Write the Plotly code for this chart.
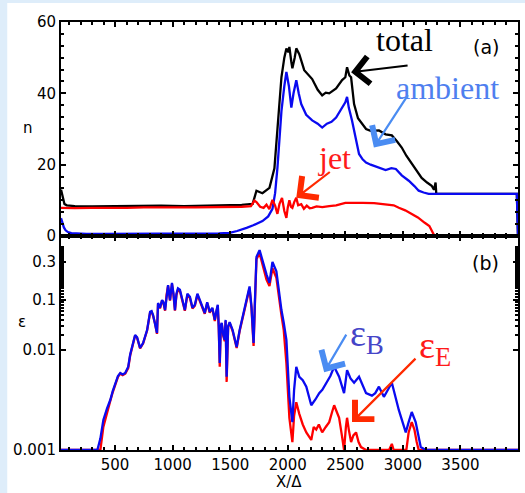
import numpy as np
import plotly.graph_objects as go
from plotly.subplots import make_subplots

# ---------------- data ----------------
# panel (a): densities
x_tot = [30, 45, 60, 80, 100, 150, 300, 500, 700, 900,
         1100, 1300, 1500, 1600, 1695, 1720, 1728, 1780, 1841, 1884,
         1910, 1945, 1970, 1988, 2005, 2014, 2030, 2040, 2060, 2074,
         2100, 2143, 2212, 2260, 2299, 2330, 2360, 2420, 2472, 2500,
         2515, 2535, 2550, 2576, 2610, 2636, 2680, 2720, 2792, 2850,
         2904, 2950, 2990, 3030, 3077, 3120, 3163, 3210, 3250, 3270,
         3284, 3290, 3600, 3990, 4000]
n_total = [13, 10.5, 9, 8.6, 8.5, 8.4, 8.3, 8.4, 8.3, 8.5,
           8.4, 8.5, 8.6, 8.7, 9, 11.5, 12.7, 12, 13.5, 19,
           29.6, 44.5, 50, 52.6, 51.5, 53, 49, 47, 50, 52.6,
           51, 46.5, 44, 41, 39.4, 40.2, 40, 41.4, 43.7, 44.5,
           47.3, 45, 44.5, 37, 33, 32, 30, 29.5, 29.6, 28.5,
           28.2, 26.5, 24.8, 22.5, 20.3, 18, 16.3, 15, 14.1, 13,
           15, 11.8, 11.8, 11.8, 0]

x_amb = [30, 40, 55, 70, 90, 120, 160, 250, 400, 600,
         800, 1000, 1200, 1400, 1495, 1560, 1642, 1700, 1780, 1830,
         1867, 1890, 1910, 1945, 1970, 1988, 2010, 2031, 2050, 2074,
         2095, 2117, 2160, 2212, 2260, 2299, 2340, 2380, 2420, 2472,
         2500, 2515, 2530, 2558, 2590, 2619, 2650, 2680, 2720, 2760,
         2792, 2850, 2900, 2939, 2990, 3051, 3100, 3137, 3180, 3224,
         3300, 3600, 3990, 4000]
n_ambient = [5, 3.6, 2.4, 1.6, 1.1, 0.8, 0.7, 0.6, 0.6, 0.6,
             0.65, 0.7, 0.7, 0.75, 0.9, 1.4, 2.3, 3, 4.2, 5.5,
             7.6, 12, 19, 35, 42, 46, 42, 36, 40, 43.7,
             40, 37, 34, 32.4, 31.5, 30.4, 31.5, 32, 33.2, 36,
             37.5, 39, 36, 32.4, 27, 23, 21.5, 20.6, 20, 19.5,
             19.2, 18.5, 19, 18.8, 17, 15.5, 14, 12.7, 12.2, 11.8,
             11.8, 11.8, 11.8, 0]

x_jet = [30, 30.5, 150, 300, 450, 600, 750, 900, 1050, 1200,
         1350, 1500, 1600, 1680, 1710, 1728, 1760, 1790, 1815, 1840,
         1867, 1890, 1910, 1928, 1950, 1970, 1988, 2000, 2014, 2028,
         2040, 2056, 2074, 2090, 2117, 2140, 2165, 2190, 2212, 2250,
         2300, 2360, 2420, 2500, 2580, 2650, 2750, 2852, 2920, 2965,
         3020, 3077, 3130, 3190, 3230, 3267, 3280, 3300, 3600, 4000]
n_jet = [7.9, 7.9, 7.8, 7.9, 7.8, 7.9, 8.0, 7.9, 8.0, 8.0,
         8.1, 8.0, 8.2, 8.4, 9.9, 9.5, 8.2, 7.9, 8.8, 7.5,
         10.1, 8.5, 6.2, 9.0, 10.7, 7.0, 5.1, 8.0, 10.0, 8.2,
         7.9, 9.5, 10.7, 8.6, 8.9, 7.6, 8.5, 7.8, 7.9, 8.3,
         8.1, 8.4, 8.6, 9.3, 9.4, 9.3, 9.2, 8.9, 8.6, 7.9,
         7.2, 6.2, 5.2, 3.7, 2.8, 0.5, 0.1, 0, 0, 0]

# panel (b): energy fractions
x_eb = [30, 346, 372, 398, 430, 458, 480, 501, 525, 545,
        566, 588, 614, 631, 648, 674, 691, 705, 717, 743,
        760, 778, 804, 817, 830, 847, 864, 873, 890, 908,
        920, 934, 947, 960, 977, 994, 1007, 1020, 1033, 1046,
        1063, 1085, 1106, 1128, 1150, 1172, 1193, 1215, 1236, 1258,
        1279, 1300, 1322, 1345, 1366, 1380, 1392, 1400, 1409, 1418,
        1426, 1440, 1452, 1460, 1469, 1482, 1495, 1521, 1556, 1582,
        1608, 1642, 1668, 1685, 1695, 1703, 1715, 1728, 1755, 1780,
        1800, 1815, 1841, 1867, 1901, 1925, 1945, 1965, 1988, 2014,
        2040, 2055, 2074, 2100, 2130, 2161, 2204, 2240, 2273, 2300,
        2334, 2370, 2403, 2425, 2446, 2489, 2515, 2545, 2576, 2619,
        2650, 2680, 2731, 2760, 2792, 2835, 2870, 2904, 2965, 3025,
        3050, 3077, 3111, 3155, 3198, 3500, 4000]
eps_B = [0.001, 0.001, 0.0013, 0.002, 0.0026, 0.00316, 0.0039, 0.0047, 0.0055, 0.0059,
         0.0057, 0.0059, 0.0068, 0.009, 0.0115, 0.02, 0.018, 0.013, 0.011, 0.0138,
         0.018, 0.025, 0.058, 0.06, 0.05, 0.035, 0.022, 0.087, 0.07, 0.1,
         0.09, 0.063, 0.12, 0.154, 0.1, 0.164, 0.12, 0.063, 0.12, 0.14,
         0.135, 0.1, 0.063, 0.12, 0.11, 0.07, 0.08, 0.12, 0.1, 0.07,
         0.055, 0.09, 0.058, 0.07, 0.04, 0.06, 0.08, 0.03, 0.0074, 0.03,
         0.035, 0.02, 0.016, 0.04, 0.0054, 0.03, 0.036, 0.025, 0.0115, 0.025,
         0.046, 0.11, 0.148, 0.072, 0.03, 0.0138, 0.1, 0.38, 0.52, 0.32,
         0.25, 0.21, 0.164, 0.3, 0.23, 0.12, 0.063, 0.035, 0.016, 0.0034,
         0.0019, 0.004, 0.0068, 0.0054, 0.005, 0.0043, 0.0028, 0.0032, 0.0037, 0.004,
         0.0047, 0.0055, 0.0068, 0.006, 0.0054, 0.0037, 0.0063, 0.0052, 0.0047, 0.0054,
         0.0045, 0.0037, 0.0035, 0.0037, 0.0043, 0.0034, 0.004, 0.0047, 0.0025, 0.0015,
         0.0019, 0.0024, 0.0019, 0.00107, 0.001, 0.001, 0.001]

x_ee = [30, 372, 398, 430, 458, 480, 501, 525, 545, 566,
        588, 614, 631, 648, 674, 691, 705, 717, 743, 760,
        778, 804, 817, 830, 847, 864, 873, 890, 908, 920,
        934, 947, 960, 977, 994, 1007, 1020, 1033, 1046, 1063,
        1085, 1106, 1128, 1150, 1172, 1193, 1215, 1236, 1258, 1279,
        1300, 1322, 1345, 1366, 1380, 1392, 1400, 1409, 1418, 1426,
        1440, 1452, 1460, 1469, 1482, 1495, 1521, 1556, 1582, 1608,
        1642, 1668, 1685, 1695, 1703, 1715, 1728, 1755, 1780, 1800,
        1815, 1841, 1867, 1901, 1925, 1945, 1965, 1988, 2014, 2040,
        2055, 2074, 2100, 2130, 2161, 2204, 2225, 2247, 2270, 2299,
        2330, 2360, 2385, 2403, 2420, 2446, 2470, 2489, 2505, 2515,
        2530, 2550, 2570, 2593, 2615, 2636, 2680, 2880, 2904, 2920,
        3030, 3050, 3077, 3100, 3120, 3137, 4000]
eps_E = [0.001, 0.001, 0.0017, 0.0024, 0.0031, 0.0038, 0.0046, 0.0054, 0.0058, 0.0056,
         0.0058, 0.0066, 0.0088, 0.0112, 0.0195, 0.0176, 0.0127, 0.0108, 0.0135, 0.0176,
         0.0245, 0.056, 0.058, 0.048, 0.034, 0.021, 0.084, 0.068, 0.097, 0.087,
         0.061, 0.116, 0.15, 0.097, 0.158, 0.116, 0.061, 0.116, 0.135, 0.13,
         0.097, 0.061, 0.116, 0.106, 0.068, 0.077, 0.116, 0.097, 0.068, 0.053,
         0.087, 0.056, 0.068, 0.038, 0.058, 0.077, 0.029, 0.0068, 0.029, 0.034,
         0.019, 0.015, 0.038, 0.0048, 0.029, 0.035, 0.024, 0.011, 0.024, 0.044,
         0.105, 0.14, 0.068, 0.028, 0.012, 0.09, 0.34, 0.45, 0.29, 0.22,
         0.18, 0.15, 0.25, 0.19, 0.1, 0.05, 0.025, 0.0074, 0.0021, 0.0012,
         0.0022, 0.003, 0.0023, 0.0018, 0.0015, 0.00126, 0.0017, 0.0016, 0.0018, 0.0015,
         0.0017, 0.0019, 0.0024, 0.0028, 0.0025, 0.0021, 0.0014, 0.001, 0.0017, 0.0021,
         0.0016, 0.0012, 0.0014, 0.0015, 0.0012, 0.00107, 0.001, 0.001, 0.00115, 0.001,
         0.001, 0.0015, 0.0019, 0.0016, 0.0012, 0.001, 0.001]

eps_ticks = [0.001, 0.01, 0.1, 0.3]
eps_tick_text = ["0.001", "0.01", "0.1", "0.3"]
x_ticks = [500, 1000, 1500, 2000, 2500, 3000, 3500]

# the epsilon axis of the original is a non-uniform logarithmic scale;
# anchor points (log10 eps -> axis units)
SCALE_LOG = [-3.0, -2.0, -1.0, np.log10(0.3), 0.0]
SCALE_POS = [0.0, 100.0, 150.0, 188.0, 214.0]


def escale(v):
    return np.interp(np.log10(np.asarray(v, dtype=float)), SCALE_LOG, SCALE_POS)


BLUE = "#0a0af0"
RED = "#ff0000"

fig = make_subplots(rows=2, cols=1, shared_xaxes=True, vertical_spacing=0.0)

fig.add_trace(go.Scatter(x=x_tot, y=n_total, mode="lines",
                         line=dict(color="black", width=2.3)), row=1, col=1)
fig.add_trace(go.Scatter(x=x_amb, y=n_ambient, mode="lines",
                         line=dict(color=BLUE, width=2.3)), row=1, col=1)
fig.add_trace(go.Scatter(x=x_jet, y=n_jet, mode="lines",
                         line=dict(color=RED, width=2.3)), row=1, col=1)

fig.add_trace(go.Scatter(x=x_ee, y=escale(eps_E), mode="lines",
                         line=dict(color=RED, width=2.3)), row=2, col=1)
fig.add_trace(go.Scatter(x=x_eb, y=escale(eps_B), mode="lines",
                         line=dict(color=BLUE, width=2.3)), row=2, col=1)

axis_common = dict(showline=True, linecolor="black", linewidth=2, mirror="ticks",
                   ticks="inside", ticklen=5, tickwidth=1.5, tickcolor="black",
                   showgrid=False, zeroline=False,
                   tickfont=dict(family="DejaVu Sans", size=15, color="black"))

fig.update_xaxes(range=[30, 4000], tickvals=x_ticks, **axis_common,
                 minor=dict(dtick=100, tick0=0, ticklen=3, tickcolor="black", ticks="inside"))
fig.update_xaxes(showticklabels=False, row=1, col=1)

fig.update_yaxes(range=[0, 60], tickvals=[0, 20, 40, 60], **axis_common,
                 minor=dict(dtick=10 / 3, tick0=0, ticklen=3, tickcolor="black", ticks="inside"),
                 row=1, col=1)
minor_eps = [k / 100 for k in range(2, 61)]
fig.update_yaxes(range=[0, 214], tickvals=list(escale(eps_ticks)), ticktext=eps_tick_text,
                 **axis_common,
                 minor=dict(tickvals=list(escale(minor_eps)), ticklen=3, tickcolor="black",
                            ticks="inside"),
                 row=2, col=1)
fig.update_layout(yaxis=dict(domain=[0.5, 1.0]), yaxis2=dict(domain=[0.0, 0.5]))

serif = "Liberation Serif"
AW = 2.2
AS = 2.4
C = dict(xanchor="center", yanchor="middle", showarrow=False)
ann = []
# labels panel (a)
ann.append(dict(x=3015, y=55, xref="x", yref="y", text="total",
                font=dict(family=serif, size=32, color="black"), **C))
ann.append(dict(x=3385, y=41.4, xref="x", yref="y", text="ambient",
                font=dict(family=serif, size=32, color="#4f7fef"), **C))
ann.append(dict(x=2410, y=22, xref="x", yref="y", text="jet",
                font=dict(family=serif, size=32, color="#ff1a1a"), **C))
ann.append(dict(x=3725, y=53, xref="x", yref="y", text="(a)",
                font=dict(family="DejaVu Sans", size=19, color="black"), **C))
# arrows panel (a)
ann.append(dict(x=2550, y=45.9, xref="x", yref="y", text="", showarrow=True,
                ax=58, ay=-7, arrowhead=4, arrowsize=AS, arrowwidth=AW, arrowcolor="black"))
ann.append(dict(x=2748, y=24.8, xref="x", yref="y", text="", showarrow=True,
                ax=35, ay=-54, arrowhead=4, arrowsize=AS, arrowwidth=AW, arrowcolor="#4a8cf2"))
ann.append(dict(x=2074, y=10.7, xref="x", yref="y", text="", showarrow=True,
                ax=35, ay=-27, arrowhead=4, arrowsize=AS, arrowwidth=AW, arrowcolor="#ff2a00"))
# labels panel (b)
ann.append(dict(x=2690, y=114, xref="x2", yref="y2", text="ε<sub>B</sub>",
                font=dict(family=serif, size=38, color="#4545c8"), **C))
ann.append(dict(x=3275, y=102, xref="x2", yref="y2", text="ε<sub>E</sub>",
                font=dict(family=serif, size=38, color="#ff1a1a"), **C))
ann.append(dict(x=3716, y=187, xref="x2", yref="y2", text="(b)",
                font=dict(family="DejaVu Sans", size=19, color="black"), **C))
# arrows panel (b)
ann.append(dict(x=2316, y=float(escale(0.006)), xref="x2", yref="y2", text="", showarrow=True,
                ax=23, ay=-39, arrowhead=4, arrowsize=AS, arrowwidth=AW, arrowcolor="#4a8cf2"))
ann.append(dict(x=2558, y=float(escale(0.0019)), xref="x2", yref="y2", text="", showarrow=True,
                ax=65, ay=-65, arrowhead=4, arrowsize=AS, arrowwidth=AW, arrowcolor="#ff2a00"))
# axis titles
ann.append(dict(x=-0.0719, y=0.752, xref="paper", yref="paper", text="n",
                font=dict(family="DejaVu Sans", size=15, color="black"), **C))
ann.append(dict(x=-0.085, y=0.299, xref="paper", yref="paper", text="ε",
                font=dict(family="DejaVu Sans", size=15, color="black"), **C))
ann.append(dict(x=0.499, y=-0.0748, xref="paper", yref="paper", text="X/Δ",
                font=dict(family="DejaVu Sans", size=15, color="black"), **C))

fig.update_layout(
    width=525, height=493,
    margin=dict(l=61, r=5, t=22, b=43),
    paper_bgcolor="#deedfa",
    plot_bgcolor="white",
    showlegend=False,
    annotations=ann,
    shapes=[dict(type="rect", xref="paper", yref="paper",
                 x0=-0.1176, x1=1.02, y0=-0.11, y1=1.0444,
                 fillcolor="white", line=dict(width=0), layer="below")],
)

fig.write_html("out.html", config={"displayModeBar": False},
               post_script="document.body.style.margin='0';document.body.style.overflow='hidden';")
